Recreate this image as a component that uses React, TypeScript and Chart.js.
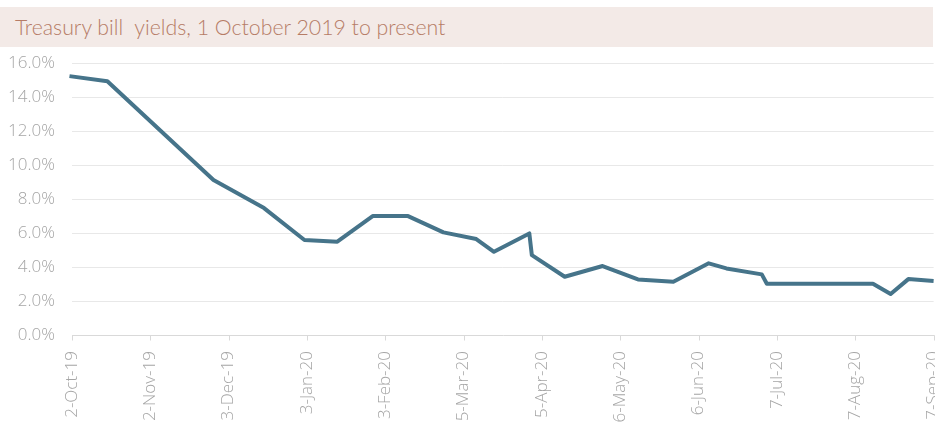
import React, { useEffect, useRef } from "react";
import { Chart, registerables } from "chart.js";

Chart.register(...registerables);

const chartTitle = "Treasury bill  yields, 1 October 2019 to present";

const axisStartDate = "2019-10-02";
const axisEndDate = "2020-09-07";
const tickStepDays = 31;

const tickLabels = [
  "2-Oct-19",
  "2-Nov-19",
  "3-Dec-19",
  "3-Jan-20",
  "3-Feb-20",
  "5-Mar-20",
  "5-Apr-20",
  "6-May-20",
  "6-Jun-20",
  "7-Jul-20",
  "7-Aug-20",
  "7-Sep-20",
];

const auctionDates = [
  "2019-10-01",
  "2019-10-16",
  "2019-11-27",
  "2019-12-17",
  "2020-01-02",
  "2020-01-15",
  "2020-01-29",
  "2020-02-12",
  "2020-02-26",
  "2020-03-10",
  "2020-03-17",
  "2020-03-31",
  "2020-04-01",
  "2020-04-14",
  "2020-04-29",
  "2020-05-13",
  "2020-05-27",
  "2020-06-10",
  "2020-06-17",
  "2020-07-01",
  "2020-07-03",
  "2020-08-14",
  "2020-08-21",
  "2020-08-28",
  "2020-09-07",
];

const yieldsPct = [
  15.24, 14.94, 9.12, 7.47, 5.59, 5.49, 7.0, 7.0, 6.04, 5.65, 4.9, 5.98, 4.7,
  3.43, 4.06, 3.27, 3.14, 4.22, 3.92, 3.57, 3.02, 3.02, 2.41, 3.29, 3.18,
];

const yMin = 0;
const yMax = 16;
const yStep = 2;

function dayOffset(d: string): number {
  return Math.round((Date.parse(d) - Date.parse(axisStartDate)) / 86400000);
}

// Axis furniture drawn from the library's own scales.
const axisFurniture = {
  id: "axisFurniture",
  beforeDatasetsDraw(chart: any) {
    const xs = chart.scales.x;
    const ys = chart.scales.y;
    const area = chart.chartArea;
    const ctx = chart.ctx;
    const baseY = Math.round(ys.getPixelForValue(yMin)) + 0.5;
    ctx.save();
    // clean plot edge (no vertical axis line in the reference)
    ctx.fillStyle = "#FFFFFF";
    ctx.fillRect(area.left - 3, area.top - 3, 6, baseY + 7 - (area.top - 3));
    ctx.lineWidth = 1;
    ctx.strokeStyle = "#E8E8E8";
    ctx.beginPath();
    for (const t of ys.ticks) {
      if (t.value === yMin) continue;
      const py = Math.round(ys.getPixelForValue(t.value)) + 0.5;
      ctx.moveTo(area.left, py);
      ctx.lineTo(area.right, py);
    }
    ctx.stroke();
    ctx.strokeStyle = "#D9D9D9";
    ctx.beginPath();
    ctx.moveTo(area.left, baseY);
    ctx.lineTo(area.right + 1, baseY);
    for (const t of xs.ticks) {
      const px = Math.round(xs.getPixelForValue(t.value)) + 0.5;
      ctx.moveTo(px, baseY);
      ctx.lineTo(px, baseY + 5);
    }
    ctx.stroke();
    ctx.restore();
  },
};

export default function App() {
  const canvasRef = useRef<HTMLCanvasElement | null>(null);

  useEffect(() => {
    document.body.style.margin = "0";
    document.body.style.overflow = "hidden";
    document.documentElement.style.overflow = "hidden";
    if (!canvasRef.current) return;

    const points = auctionDates.map((d, i) => ({ x: dayOffset(d), y: yieldsPct[i] }));
    const tickFont = { family: "'Open Sans'", size: 17, weight: 300 as any, lineHeight: 1.2 };

    const chart = new Chart(canvasRef.current, {
      type: "line",
      plugins: [axisFurniture],
      data: {
        datasets: [
          {
            data: points,
            borderColor: "#46748A",
            borderWidth: 4,
            pointRadius: 0,
            tension: 0,
            borderJoinStyle: "round",
            borderCapStyle: "butt",
            fill: false,
            clip: { left: 3, right: 3, top: 3, bottom: 3 } as any,
          },
        ],
      },
      options: {
        animation: false,
        responsive: false,
        maintainAspectRatio: false,
        layout: { padding: { top: 0, right: 0, left: 0, bottom: 0 } },
        plugins: {
          legend: { display: false },
          tooltip: { enabled: false },
          title: { display: false },
        },
        scales: {
          x: {
            type: "linear",
            min: 0,
            max: dayOffset(axisEndDate),
            afterBuildTicks: (scale: any) => {
              scale.ticks = tickLabels.map((_, i) => ({ value: i * tickStepDays }));
            },
            afterFit: (scale: any) => {
              scale.height = 132;
            },
            ticks: {
              autoSkip: false,
              minRotation: 90,
              maxRotation: 90,
              padding: 8,
              color: "#A5A5A5",
              font: tickFont,
              callback: (v: any) => tickLabels[Math.round(Number(v) / tickStepDays)] ?? "",
            },
            grid: { display: false },
            border: { display: false },
          },
          y: {
            min: yMin,
            max: yMax,
            afterFit: (scale: any) => {
              scale.width = 72;
            },
            ticks: {
              stepSize: yStep,
              padding: 17,
              color: "#A5A5A5",
              font: tickFont,
              callback: (v: any) => Number(v).toFixed(1) + "%",
            },
            grid: { display: false, drawTicks: false },
            border: { display: false },
          },
        },
      },
    });
    return () => chart.destroy();
  }, []);

  return (
    <div style={{ position: "relative", width: 935, height: 425, overflow: "hidden", background: "#fff" }}>
      <div
        style={{
          position: "absolute",
          left: 0,
          top: 7,
          width: 933,
          height: 40,
          background: "#F3EAE7",
        }}
      >
        <div
          style={{
            position: "absolute",
            left: 15,
            top: 0,
            lineHeight: "40px",
            fontFamily: "Lato",
            fontWeight: 300,
            fontSize: 21.3,
            color: "#B67C66",
            whiteSpace: "pre",
          }}
        >
          {chartTitle}
        </div>
      </div>
      <canvas
        ref={canvasRef}
        width={962}
        height={431}
        style={{ position: "absolute", left: 0, top: 36, width: 962, height: 431 }}
      />
    </div>
  );
}
